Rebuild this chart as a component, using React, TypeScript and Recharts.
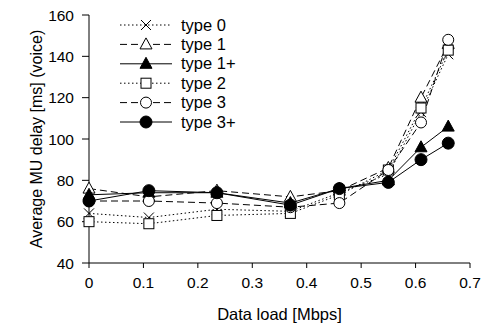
import React from "react";
import { LineChart, Line, XAxis, YAxis } from "recharts";

// Mean MU delay for voice traffic vs. data load, one series per scheduler type.
const loads = [0, 0.11, 0.235, 0.37, 0.46, 0.55, 0.61, 0.66];
const type0 = [64, 62, 66, 65, 74, 83, 113, 141];
const type1 = [76, 72, 75, 72, 75, 86, 120, 146];
const type1p = [73, 74, 74, 69, 76, 80, 96, 106];
const type2 = [60, 59, 63, 64, 73, 85, 115, 143];
const type3 = [70, 70, 69, 67, 69, 85, 108, 148];
const type3p = [70, 75, 74, 68, 76, 79, 90, 98];

const xTicks = [0, 0.1, 0.2, 0.3, 0.4, 0.5, 0.6, 0.7];
const yTicks = [40, 60, 80, 100, 120, 140, 160];

type Marker = "x" | "tri" | "triFill" | "sq" | "circ" | "circFill";

const DOTTED = "1.5 2.5";
const DASHED = "7 4";

const series: { key: string; name: string; dash?: string; marker: Marker }[] = [
  { key: "t0", name: "type 0", dash: DOTTED, marker: "x" },
  { key: "t1", name: "type 1", dash: DASHED, marker: "tri" },
  { key: "t1p", name: "type 1+", marker: "triFill" },
  { key: "t2", name: "type 2", dash: DOTTED, marker: "sq" },
  { key: "t3", name: "type 3", dash: DASHED, marker: "circ" },
  { key: "t3p", name: "type 3+", marker: "circFill" },
];

const data = loads.map((x, i) => ({
  x,
  t0: type0[i],
  t1: type1[i],
  t1p: type1p[i],
  t2: type2[i],
  t3: type3[i],
  t3p: type3p[i],
}));

const FONT = "'Liberation Sans', Arial, Helvetica, sans-serif";

function markerShape(kind: Marker, cx: number, cy: number, key?: string) {
  const s = "#000";
  switch (kind) {
    case "x":
      return (
        <g key={key} stroke={s} strokeWidth={1}>
          <line x1={cx - 5} y1={cy - 5} x2={cx + 5} y2={cy + 5} />
          <line x1={cx - 5} y1={cy + 5} x2={cx + 5} y2={cy - 5} />
        </g>
      );
    case "tri":
    case "triFill":
      return (
        <polygon
          key={key}
          points={`${cx},${cy - 6.5} ${cx - 6},${cy + 4.5} ${cx + 6},${cy + 4.5}`}
          fill={kind === "tri" ? "#fff" : "#000"}
          stroke={s}
          strokeWidth={1}
        />
      );
    case "sq":
      return (
        <rect key={key} x={cx - 5} y={cy - 5} width={10} height={10} fill="#fff" stroke={s} strokeWidth={1} />
      );
    case "circ":
    case "circFill":
      return (
        <circle
          key={key}
          cx={cx}
          cy={cy}
          r={kind === "circ" ? 5.5 : 6}
          fill={kind === "circ" ? "#fff" : "#000"}
          stroke={s}
          strokeWidth={1}
        />
      );
  }
}

// Legend drawn as an overlay so it doesn't eat into the plot area
function LegendBox() {
  return (
    <svg
      width={130}
      height={120}
      style={{ position: "absolute", left: 115, top: 14, overflow: "visible" }}
    >
      {series.map((s, i) => {
        const y = 11 + i * 19.4;
        return (
          <g key={s.key}>
            <line x1={5} y1={y} x2={57} y2={y} stroke="#000" strokeWidth={1} strokeDasharray={s.dash} />
            {markerShape(s.marker, 31, y)}
            <text x={66} y={y + 5.5} fontSize={16.5} fontFamily={FONT} fill="#000">
              {s.name}
            </text>
          </g>
        );
      })}
    </svg>
  );
}

export default function App() {
  return (
    <div style={{ position: "absolute", left: 0, top: 0, width: 490, height: 324, background: "#fff" }}>
      <LineChart width={490} height={324} data={data} margin={{ top: 15, right: 20, bottom: 11, left: 0 }}>
        <XAxis
          dataKey="x"
          type="number"
          domain={[0, 0.7]}
          ticks={xTicks}
          height={50}
          stroke="#000"
          tickSize={5}
          tickMargin={9}
          tick={{ fill: "#000", fontSize: 15.5, fontFamily: FONT }}
          label={{ value: "Data load [Mbps]", position: "insideBottom", offset: -7, fill: "#000", fontSize: 16.5, fontFamily: FONT }}
        />
        <YAxis
          type="number"
          domain={[40, 160]}
          ticks={yTicks}
          width={89}
          stroke="#000"
          tickSize={7}
          tickMargin={8}
          tick={{ fill: "#000", fontSize: 15.5, fontFamily: FONT }}
          label={{
            value: "Average MU delay [ms] (voice)",
            angle: -90,
            position: "insideLeft",
            offset: 36,
            fill: "#000",
            fontSize: 16,
            fontFamily: FONT,
            style: { textAnchor: "middle" },
          }}
        />
        {series.map((s) => (
          <Line
            key={s.key}
            dataKey={s.key}
            name={s.name}
            stroke="#000"
            strokeWidth={1}
            strokeDasharray={s.dash}
            type="linear"
            isAnimationActive={false}
            activeDot={false}
            dot={(p: any) => markerShape(s.marker, p.cx, p.cy, `${s.key}-${p.index}`)}
          />
        ))}
      </LineChart>
      <LegendBox />
    </div>
  );
}
